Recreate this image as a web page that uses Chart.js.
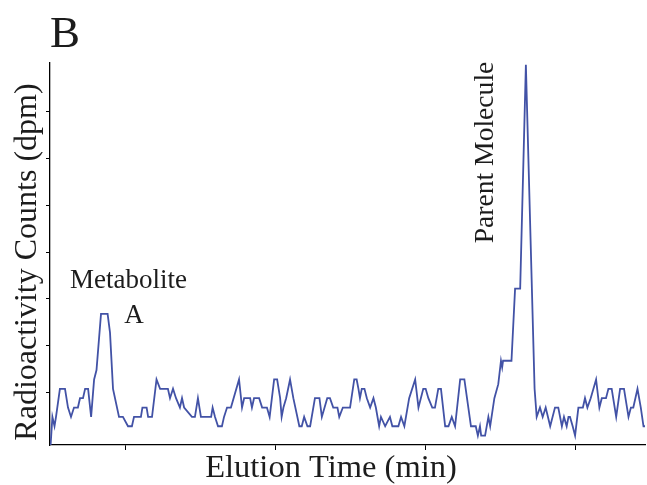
<!DOCTYPE html>
<html>
<head>
<meta charset="utf-8">
<script src="https://cdn.jsdelivr.net/npm/chart.js@4.4.0/dist/chart.umd.min.js"></script>
<style>
  html, body { margin: 0; padding: 0; background: #fff; }
</style>
</head>
<body>
<canvas id="radioChart" width="647" height="485"></canvas>
<script>
// elution time (min) and counts
const elutionTimes = [2.52,2.58,2.65,2.70,2.83,3.00,3.10,3.20,3.30,3.43,
  3.50,3.60,3.67,3.77,3.87,3.97,4.05,4.20,4.42,4.50,
  4.60,4.80,4.93,5.10,5.23,5.30,5.53,5.58,5.72,5.77,
  5.90,6.05,6.17,6.43,6.50,6.60,6.70,6.83,6.90,6.97,
  7.23,7.33,7.43,7.53,7.87,7.92,8.00,8.10,8.23,8.30,
  8.40,8.53,8.80,8.90,8.97,9.17,9.23,9.30,9.47,9.57,
  9.73,9.82,9.97,10.07,10.17,10.22,10.28,10.37,10.50,10.61,
  10.81,10.89,10.97,11.08,11.17,11.33,11.48,11.56,11.74,11.83,
  11.94,12.08,12.14,12.26,12.50,12.64,12.72,12.78,12.83,12.89,
  12.98,13.06,13.17,13.28,13.36,13.47,13.53,13.67,13.83,13.91,
  14.11,14.20,14.31,14.47,14.67,14.78,14.94,15.02,15.11,15.24,
  15.33,15.44,15.53,15.67,15.78,15.89,16.00,16.17,16.31,16.53,
  16.69,16.76,16.83,16.87,17.00,17.11,17.17,17.31,17.44,17.53,
  17.57,17.60,17.88,18.00,18.17,18.36,18.65,18.72,18.83,18.92,
  19.02,19.17,19.33,19.44,19.56,19.63,19.72,19.78,19.83,19.92,
  20.00,20.11,20.26,20.33,20.41,20.52,20.70,20.81,20.89,21.03,
  21.11,21.22,21.37,21.50,21.63,21.78,21.86,21.94,22.08,22.19,
  22.28,22.33];

const counts = [0,3,2,3,6,6,4,3,4,4,
  5,5,6,6,3,7,8,14,14,12,
  6,3,3,2,2,3,3,4,4,3,
  3,7,6,6,5,6,5,4,5,4,
  3,3,5,3,3,4,3,2,2,3,
  4,4,7,4,5,5,4,5,5,4,
  4,3,7,7,5,3,4,5,7,5,
  2,2,3,2,2,5,5,3,5,5,
  4,4,3,4,4,7,7,6,5,6,
  6,5,4,5,4,2,3,2,3,2,
  2,3,2,5,7,4,6,6,5,4,
  4,6,6,2,2,3,2,7,7,2,
  2,1,2,1,1,3,2,5,6.5,9,
  8.3,9,9,16.7,16.7,40.6,6,3,4,3,
  4,2,4,4,2,3,2,3,3,2,
  1,4,4,5,4,5,7,4,5,5,
  6,6,3,6,6,3,4,4,6,4,
  2,2];

const xTickValues = [5, 10, 15, 20];
const yTickValues = [5.6, 10.6, 15.6, 20.6, 25.6, 30.6, 35.6];

const panelLabel = 'B';
const xTitle = 'Elution Time (min)';
const yTitle = 'Radioactivity Counts (dpm)';
const peakLabels = ['Metabolite', 'A', 'Parent Molecule'];

const serif = '"Liberation Serif", "Times New Roman", serif';

// panel letter, axis titles and peak names
const figureText = {
  id: 'figureText',
  afterDraw(chart) {
    const ctx = chart.ctx;
    const put = (txt, x, y, size, rot) => {
      ctx.save();
      ctx.translate(x, y);
      ctx.rotate(rot);
      ctx.font = size + 'px ' + serif;
      ctx.fillStyle = '#1c1c1c';
      ctx.textAlign = 'center';
      ctx.textBaseline = 'alphabetic';
      ctx.fillText(txt, 0, 0);
      ctx.restore();
    };
    put(panelLabel, 65, 47, 45, 0);
    put(yTitle, 36, 262, 32, -Math.PI / 2);
    put(xTitle, 331, 477, 32.5, 0);
    put(peakLabels[0], 128.5, 288, 27, 0);
    put(peakLabels[1], 134, 323, 27, 0);
    put(peakLabels[2], 493, 152.5, 27.6, -Math.PI / 2);
  }
};

const ctx = document.getElementById('radioChart').getContext('2d');
const chart = new Chart(ctx, {
  type: 'line',
  data: {
    datasets: [{
      data: elutionTimes.map((t, i) => ({ x: t, y: counts[i] })),
      borderColor: '#4252a6',
      borderWidth: 1.8,
      pointRadius: 0,
      tension: 0,
      fill: false
    }]
  },
  options: {
    responsive: false,
    animation: false,
    devicePixelRatio: 1,
    layout: { padding: { left: 46, right: 2, top: 63, bottom: 35 } },
    plugins: { legend: { display: false }, tooltip: { enabled: false } },
    scales: {
      x: {
        type: 'linear',
        min: 2.5,
        max: 22.33,
        afterBuildTicks: s => { s.ticks = xTickValues.map(v => ({ value: v })); },
        ticks: { display: false },
        grid: { drawOnChartArea: false, drawTicks: true, tickLength: 5, color: '#000' },
        border: { color: '#000', width: 1.3 }
      },
      y: {
        min: 0,
        max: 40.8,
        afterBuildTicks: s => { s.ticks = yTickValues.map(v => ({ value: v })); },
        ticks: { display: false },
        grid: { drawOnChartArea: false, drawTicks: true, tickLength: 4, color: '#000' },
        border: { color: '#000', width: 1.3 }
      }
    }
  },
  plugins: [figureText]
});
</script>
</body>
</html>
